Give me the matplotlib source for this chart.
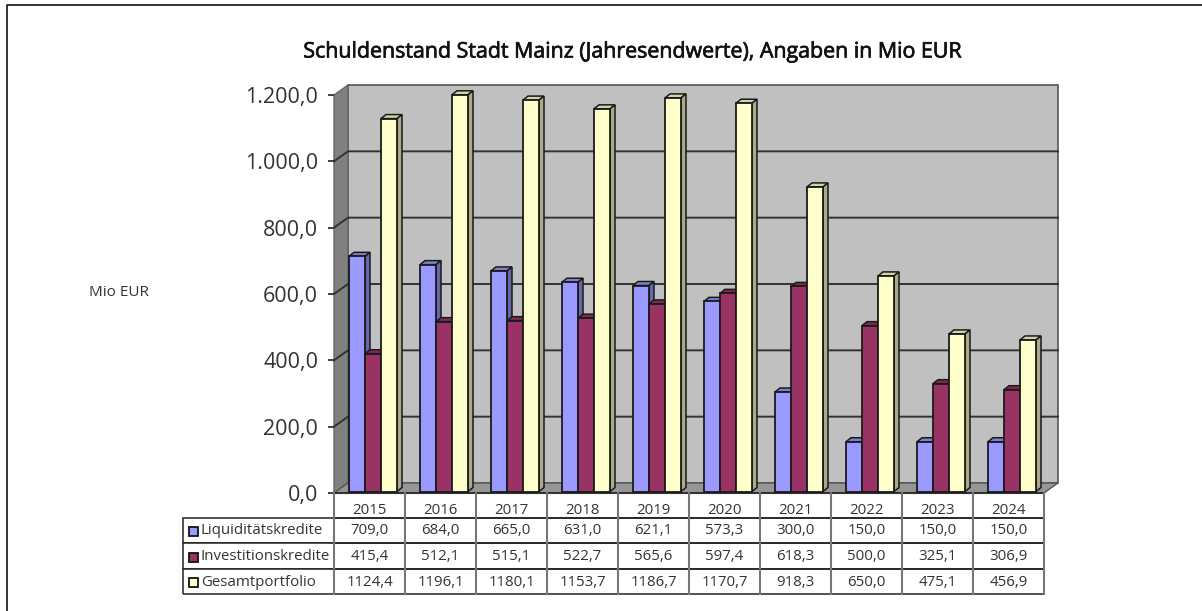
import matplotlib
matplotlib.use('Agg')
import matplotlib.pyplot as plt
import matplotlib.patheffects as pe
from matplotlib.patches import Polygon, Rectangle
from matplotlib.lines import Line2D
from matplotlib.table import Table

plt.rcParams['font.family'] = ['Open Sans', 'DejaVu Sans']

years = ['2015', '2016', '2017', '2018', '2019', '2020', '2021', '2022', '2023', '2024']
liquiditaet = [709.0, 684.0, 665.0, 631.0, 621.1, 573.3, 300.0, 150.0, 150.0, 150.0]
investition = [415.4, 512.1, 515.1, 522.7, 565.6, 597.4, 618.3, 500.0, 325.1, 306.9]
gesamt = [1124.4, 1196.1, 1180.1, 1153.7, 1186.7, 1170.7, 918.3, 650.0, 475.1, 456.9]
series_names = ['Liquiditätskredite', 'Investitionskredite', 'Gesamtportfolio']
series = [liquiditaet, investition, gesamt]
# front, top, side
colors = [('#9999ff', '#7f7fd4', '#6666aa'),
          ('#993366', '#7f2a55', '#662244'),
          ('#ffffcc', '#d4d4aa', '#aaaa88')]
yticks = [0, 200, 400, 600, 800, 1000, 1200]

W, H = 1202, 611
fig = plt.figure(figsize=(W / 100, H / 100), dpi=100)
# front plane of the 3d box
left, right, bottom, top = 334, 1044, 493, 95
ax = fig.add_axes([left / W, 1 - bottom / H, (right - left) / W, (bottom - top) / H])
ax.set_xlim(0, 10)
ax.set_ylim(0, 1200)
ax.patch.set_visible(False)
for s in ax.spines.values():
    s.set_visible(False)

# chart area border, only top and left show
fig.add_artist(Line2D([7 / W, 7 / W, 1], [0, 1 - 5 / H, 1 - 5 / H], color='#111111', lw=1.2))

# pixel -> data sizes
px_x = 10 / (right - left)
px_y = 1200 / (bottom - top)
dx = 14 * px_x
dy = 10 * px_y
bar_dx = 5 * px_x
bar_dy = 4 * px_y
edge = '#1a1a1a'

# walls
ax.add_patch(Polygon([(dx, dy), (10 + dx, dy), (10 + dx, 1200 + dy), (dx, 1200 + dy)],
                     closed=True, fc='#c0c0c0', ec='#555555', lw=1.2, clip_on=False, zorder=1))
ax.add_patch(Polygon([(0, 0), (dx, dy), (dx, 1200 + dy), (0, 1200)],
                     closed=True, fc='#808080', ec='#666666', lw=1, clip_on=False, zorder=1))
ax.add_patch(Polygon([(0, 0), (10, 0), (10 + dx, dy), (dx, dy)],
                     closed=True, fc='#969696', ec='#555555', lw=1, clip_on=False, zorder=1))
for t in yticks[1:-1]:
    ax.plot([0, dx, 10 + dx], [t, t + dy, t + dy], color='#333333', lw=1.4, clip_on=False, zorder=2)
ax.plot([0, 10], [0, 0], color='#333333', lw=1.5, clip_on=False, zorder=2)

# bars
bar_w = 16 * px_x
start = 15 * px_x
lift = 1.5 * px_y
z = 3
for i in range(len(years)):
    for j, vals in enumerate(series):
        x0 = i + start + j * bar_w
        v = vals[i] + lift
        front, top_c, side = colors[j]
        ax.add_patch(Polygon([(x0, v), (x0 + bar_w, v), (x0 + bar_w + bar_dx, v + bar_dy), (x0 + bar_dx, v + bar_dy)],
                             closed=True, fc=top_c, ec=edge, lw=1.1, clip_on=False, zorder=z))
        ax.add_patch(Polygon([(x0 + bar_w, lift), (x0 + bar_w + bar_dx, lift + bar_dy),
                              (x0 + bar_w + bar_dx, v + bar_dy), (x0 + bar_w, v)],
                             closed=True, fc=side, ec=edge, lw=1.1, clip_on=False, zorder=z))
        ax.bar(x0, vals[i], width=bar_w, bottom=lift, align='edge', color=front, edgecolor=edge,
               linewidth=1.3, clip_on=False, zorder=z + 1)
        z += 2

ax.set_yticks(yticks)
ax.set_yticklabels([f'{t:,.1f}'.replace(',', 'X').replace('.', ',').replace('X', '.') for t in yticks],
                   fontsize=15.5, color='#333333')
ax.tick_params(axis='y', length=4, width=1.2, pad=7.5, color='#222222')
ax.set_xticks([])

# data table below the plot: grid from a Table, vertical lines and text on top
fmt = lambda v: f'{v:.1f}'.replace('.', ',')
label_w = (334 - 183) * px_x
tbl_left = -label_w / 10
tbl_h = (594 - 493) / (bottom - top)
tbl = Table(ax, bbox=[tbl_left, -tbl_h, 1 - tbl_left, tbl_h])
row_h = [25, 25, 26, 25]
for c in range(len(years)):
    cell = tbl.add_cell(0, c + 1, width=1, height=row_h[0], edgecolor='#222222')
    cell.visible_edges = 'B'
for r in range(len(series)):
    cell = tbl.add_cell(r + 1, 0, width=label_w, height=row_h[r + 1], edgecolor='#222222')
    cell.visible_edges = 'BTL'
    for c in range(len(years)):
        cell = tbl.add_cell(r + 1, c + 1, width=1, height=row_h[r + 1], edgecolor='#222222')
        cell.visible_edges = 'BT'
for cell in tbl.get_celld().values():
    cell.set_linewidth(1.1)
ax.add_table(tbl)
for c in range(len(years) + 1):
    ax.plot([c, c], [0, -(594 - 493) * px_y], color='#777777', lw=1.5, clip_on=False, zorder=60)

text_ys = [531, 557, 582]
for c, y in enumerate(years):
    ax.text(c + 0.5, -(510 - 493) * px_y, y, fontsize=10.8, ha='center', va='center', color='#333333')
for r, vals in enumerate(series):
    yp = -(text_ys[r] - 493) * px_y
    ax.text(-(334 - 201) * px_x, yp, series_names[r], fontsize=10.8, ha='left', va='center', color='#333333')
    for c, v in enumerate(vals):
        ax.text(c + 0.5, yp, fmt(v), fontsize=10.8, ha='center', va='center', color='#333333')

# legend keys in the table
for j, yp in enumerate(text_ys):
    ax.add_patch(Rectangle((-(334 - 189) * px_x, (bottom - yp - 4.5) * px_y), 9 * px_x, 9 * px_y,
                           fc=colors[j][0], ec='#111111', lw=1.3, clip_on=False, zorder=50))

fig.text(633 / W, 1 - 52 / H, 'Schuldenstand Stadt Mainz (Jahresendwerte), Angaben in Mio EUR',
         fontsize=15.4, ha='center', va='center', color='#111111',
         path_effects=[pe.withStroke(linewidth=0.5, foreground='#111111')])
fig.text(119 / W, 1 - 293 / H, 'Mio EUR', fontsize=11, ha='center', va='center', color='#333333')

fig.savefig('out.png', dpi=100)
